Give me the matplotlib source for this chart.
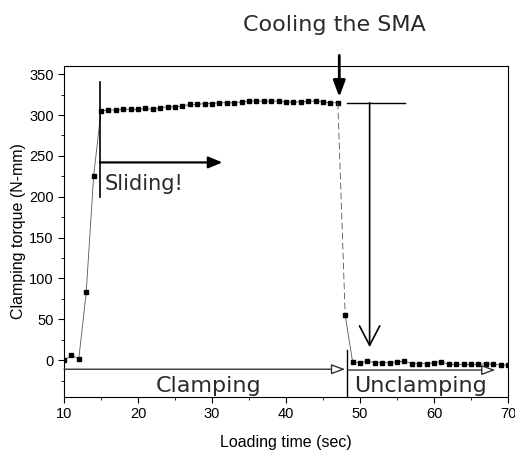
import matplotlib
matplotlib.use('Agg')
from matplotlib import pyplot as plt
from matplotlib.ticker import MultipleLocator

# loading time (sec), one sample per second
time_clamp = [10, 11, 12, 13, 14]
torque_clamp = [0, 6, 2, 83, 225]

time_plateau = list(range(15, 48))
torque_plateau = [305, 306, 306, 307, 307, 307, 308, 307, 309, 310, 310,
                  311, 313, 313, 314, 314, 315, 315, 315, 316, 317, 317,
                  317, 317, 317, 316, 316, 316, 317, 317, 316, 315, 315]

time_release = [48]
torque_release = [55]

time_unclamp = list(range(49, 71))
torque_unclamp = [-2, -3, -1, -3, -3, -3, -2, -1, -4, -4, -4, -3,
                  -2, -5, -5, -5, -5, -5, -4, -5, -6, -6]

xticks = [10, 20, 30, 40, 50, 60, 70]
yticks = [0, 50, 100, 150, 200, 250, 300, 350]

tick_font = 'Liberation Sans'
note_font = 'DejaVu Sans'
note_color = '#2a2a2a'

fig = plt.figure(figsize=(5.15, 4.51), dpi=100)
ax = fig.add_axes([0.1243, 0.1197, 0.8621, 0.734])

# the measured series, with the drop after cooling drawn dashed
t_before = time_clamp + time_plateau
q_before = torque_clamp + torque_plateau
t_after = time_release + time_unclamp
q_after = torque_release + torque_unclamp
ax.plot(t_before, q_before, color='#555555', lw=0.6,
        marker='s', ms=2.4, mfc='black', mec='black')
ax.plot([t_before[-1], t_after[0]], [q_before[-1], q_after[0]],
        color='#555555', lw=0.6, ls=(0, (8, 4)))
ax.plot(t_after, q_after, color='#555555', lw=0.6,
        marker='s', ms=2.4, mfc='black', mec='black')

ax.set_xlim(10, 70)
ax.set_ylim(-45, 360)
ax.set_xticks(xticks)
ax.set_yticks(yticks)
ax.xaxis.set_minor_locator(MultipleLocator(5))
ax.yaxis.set_minor_locator(MultipleLocator(25))
ax.tick_params(which='major', direction='out', length=4, width=0.8,
               labelsize=10.5)
ax.tick_params(which='minor', direction='out', length=2.5, width=0.6)
for lab in ax.get_xticklabels() + ax.get_yticklabels():
    lab.set_fontfamily(tick_font)
ax.set_xlabel('Loading time (sec)', fontsize=11.5, family=tick_font,
              labelpad=10)
ax.set_ylabel('Clamping torque (N-mm)', fontsize=11.5, family=tick_font,
              labelpad=2)

# sliding marker and arrow
ax.plot([14.9, 14.9], [200, 340], color='black', lw=1.2)
ax.annotate('', xy=(31.4, 242), xytext=(14.9, 242),
            arrowprops=dict(arrowstyle='-|>,head_length=0.6,head_width=0.25',
                            color='black', lw=1.6, mutation_scale=14,
                            shrinkA=0, shrinkB=0))
ax.text(15.5, 216, 'Sliding!', fontsize=15, family=note_font,
        va='center', ha='left', color=note_color)

# cooling the SMA
fig.text(0.649, 0.944, 'Cooling the SMA', fontsize=16, family=note_font,
         ha='center', va='center', color=note_color)
ax.annotate('', xy=(47.2, 322), xytext=(47.2, 373),
            annotation_clip=False,
            arrowprops=dict(arrowstyle='-|>,head_length=0.7,head_width=0.26',
                            color='black', lw=2.0, mutation_scale=14,
                            shrinkA=0, shrinkB=0))

# torque drop marker
ax.plot([48.2, 56.1], [315, 315], color='black', lw=1.0)
ax.annotate('', xy=(51.3, 16), xytext=(51.3, 315),
            arrowprops=dict(arrowstyle='->,head_length=1.0,head_width=0.52',
                            color='black', lw=1.2, mutation_scale=14,
                            shrinkA=0, shrinkB=0))

# clamping / unclamping phases
ax.annotate('', xy=(48.0, -11), xytext=(10, -11),
            arrowprops=dict(arrowstyle='-|>,head_length=0.6,head_width=0.22',
                            color='#333333', fc='white', lw=1.0,
                            mutation_scale=14, shrinkA=0, shrinkB=0))
ax.annotate('', xy=(68.3, -12), xytext=(48.3, -12),
            arrowprops=dict(arrowstyle='-|>,head_length=0.6,head_width=0.22',
                            color='#333333', fc='white', lw=1.0,
                            mutation_scale=14, shrinkA=0, shrinkB=0))
ax.plot([48.3, 48.3], [12, -45], color='black', lw=1.0)
ax.text(29.6, -31, 'Clamping', fontsize=16, family=note_font,
        ha='center', va='center', color=note_color)
ax.text(49.2, -31, 'Unclamping', fontsize=16, family=note_font,
        ha='left', va='center', color=note_color)

fig.savefig('out.png', dpi=100)
